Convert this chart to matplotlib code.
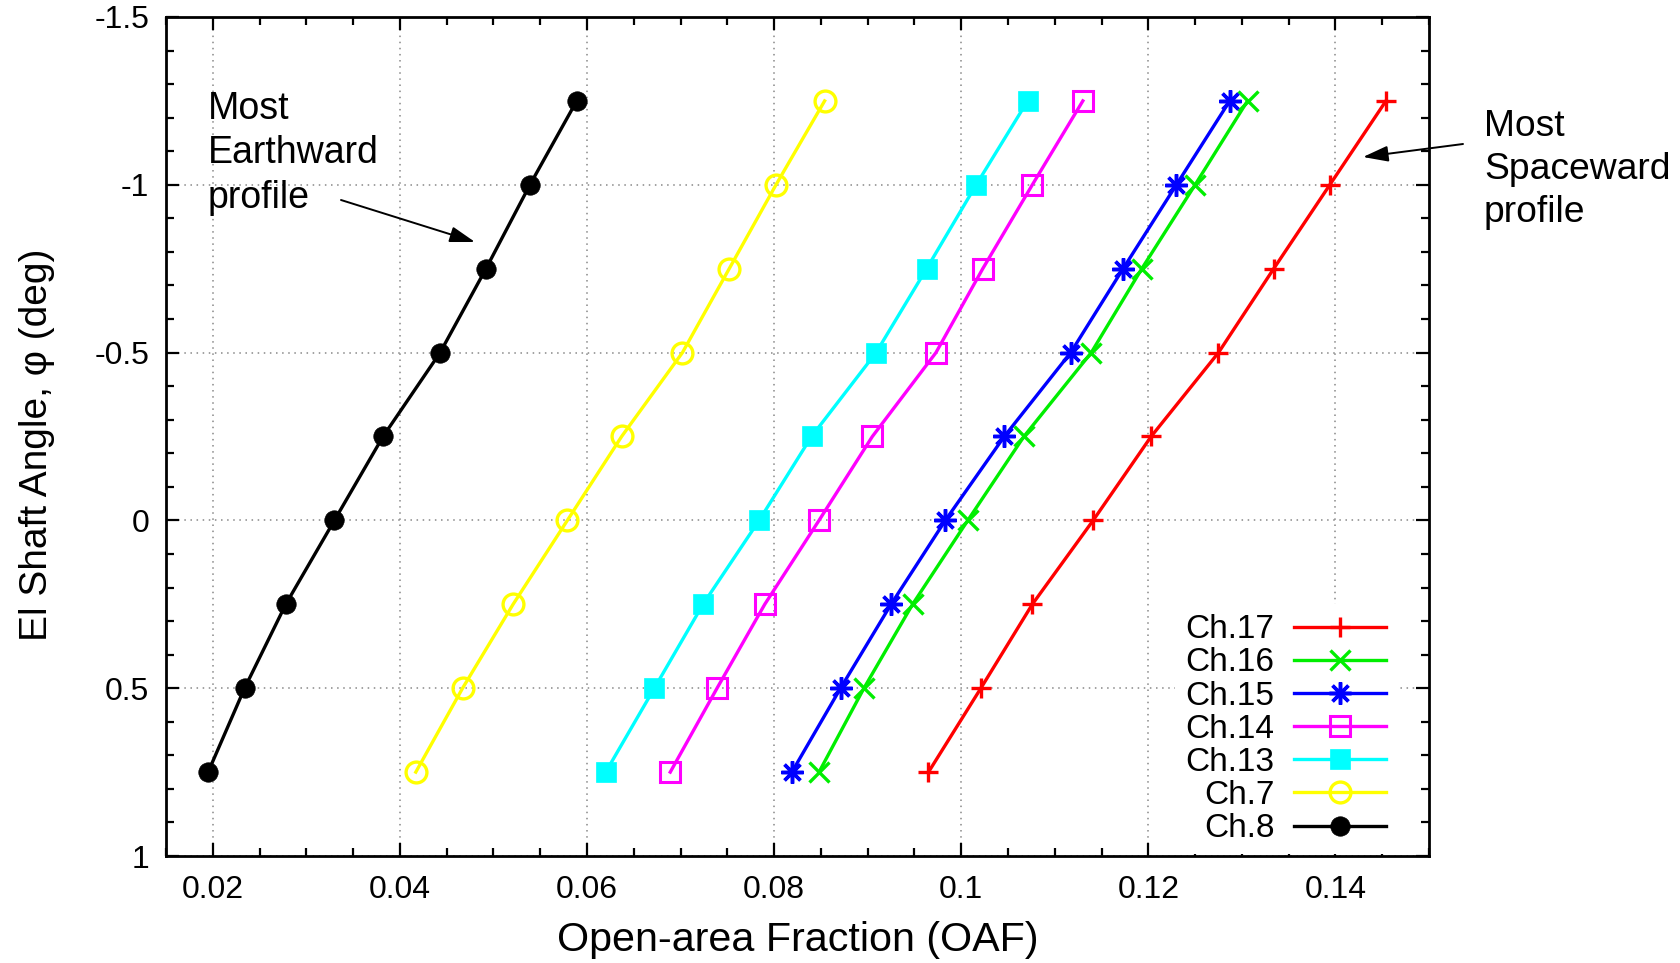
import matplotlib
matplotlib.use("Agg")
import matplotlib.pyplot as plt
from matplotlib.ticker import FixedLocator, FixedFormatter, MultipleLocator

plt.rcParams['font.family'] = ['Liberation Sans', 'DejaVu Sans']

# ---- data ----
angles = [-1.25, -1.0, -0.75, -0.5, -0.25, 0.0, 0.25, 0.5, 0.75]
ch17 = [0.1454, 0.1394, 0.1334, 0.1275, 0.1203, 0.1141, 0.1076, 0.1021, 0.0965]
ch16 = [0.1306, 0.1250, 0.1193, 0.1139, 0.1067, 0.1007, 0.0948, 0.0896, 0.0848]
ch15 = [0.1287, 0.1230, 0.1173, 0.1117, 0.1046, 0.0983, 0.0925, 0.0871, 0.0819]
ch14 = [0.1130, 0.1076, 0.1023, 0.0973, 0.0905, 0.0848, 0.0790, 0.0739, 0.0689]
ch13 = [0.1071, 0.1016, 0.0963, 0.0909, 0.0840, 0.0784, 0.0724, 0.0672, 0.0620]
ch7 = [0.0854, 0.0802, 0.0752, 0.0702, 0.0637, 0.0579, 0.0521, 0.0467, 0.0417]
ch8 = [0.0589, 0.0539, 0.0492, 0.0443, 0.0382, 0.0330, 0.0278, 0.0234, 0.0195]

series_names = ['Ch.17', 'Ch.16', 'Ch.15', 'Ch.14', 'Ch.13', 'Ch.7', 'Ch.8']
series_values = [ch17, ch16, ch15, ch14, ch13, ch7, ch8]

xtick_vals = [0.02, 0.04, 0.06, 0.08, 0.10, 0.12, 0.14]
xtick_labels = ['0.02', '0.04', '0.06', '0.08', '0.1', '0.12', '0.14']
ytick_vals = [-1.5, -1.0, -0.5, 0.0, 0.5, 1.0]
ytick_labels = ['-1.5', '-1', '-0.5', '0', '0.5', '1']

# ---- styles ----
styles = {
    'Ch.17': dict(color='#ff0000', marker='+', ms=14, mfc='#ff0000', mew=2.4),
    'Ch.16': dict(color='#00ee00', marker='x', ms=14, mfc='#00ee00', mew=2.4),
    'Ch.15': dict(color='#0000ff', marker=(8, 2, 0), ms=16, mfc='#0000ff', mew=2.5),
    'Ch.14': dict(color='#ff00ff', marker='s', ms=14, mfc='none', mew=2.2),
    'Ch.13': dict(color='#00ffff', marker='s', ms=14, mfc='#00ffff', mew=0.5),
    'Ch.7': dict(color='#ffff00', marker='o', ms=15, mfc='none', mew=2.4),
    'Ch.8': dict(color='#000000', marker='o', ms=14, mfc='#000000', mew=0.5),
}

W, H = 1681, 963
fig = plt.figure(figsize=(W / 100, H / 100), dpi=100)
ax_left, ax_right, ax_top, ax_bot = 166, 1429, 17, 856
ax = fig.add_axes([ax_left / W, 1 - ax_bot / H, (ax_right - ax_left) / W, (ax_bot - ax_top) / H])

handles = []
for name, vals in zip(series_names, series_values):
    st = styles[name]
    h, = ax.plot(vals, angles, color=st['color'], lw=2.4, marker=st['marker'],
                 markersize=st['ms'], markerfacecolor=st['mfc'],
                 markeredgecolor=st['color'], markeredgewidth=st['mew'],
                 label=name, zorder=3)
    handles.append(h)

ax.set_xlim(0.015, 0.15)
ax.set_ylim(1.0, -1.5)

ax.xaxis.set_major_locator(FixedLocator(xtick_vals))
ax.xaxis.set_major_formatter(FixedFormatter(xtick_labels))
ax.xaxis.set_minor_locator(MultipleLocator(0.005))
ax.yaxis.set_major_locator(FixedLocator(ytick_vals))
ax.yaxis.set_major_formatter(FixedFormatter(ytick_labels))
ax.yaxis.set_minor_locator(MultipleLocator(0.1))

ax.tick_params(which='both', direction='in', top=True, right=True, width=1.6, colors='black')
ax.tick_params(which='major', length=9.5)
ax.tick_params(which='minor', length=5.5)
ax.tick_params(axis='x', which='major', labelsize=23, pad=13.5)
ax.tick_params(axis='y', which='major', labelsize=23, pad=12)
for sp in ax.spines.values():
    sp.set_linewidth(2.0)

ax.grid(True, which='major', color='#888888', linestyle=(0, (1, 3)), linewidth=1.1, zorder=0)
ax.set_axisbelow(True)

ax.set_xlabel('Open-area Fraction (OAF)', fontsize=29.7)
ax.xaxis.set_label_coords(0.5, -0.077)
ax.xaxis.label.set_va('top')
ax.set_ylabel('El Shaft Angle, \u03c6 (deg)', fontsize=28)
ax.yaxis.set_label_coords(-0.088, 0.49)

leg = ax.legend(handles=handles, loc='lower right', bbox_to_anchor=(0.974, 0.002),
                fontsize=24, markerfirst=False, frameon=True, fancybox=False,
                edgecolor='none', facecolor='white', framealpha=1.0,
                borderpad=0.3, borderaxespad=0.0, handlelength=2.75,
                handletextpad=0.6, labelspacing=0.065)
leg.set_zorder(5)

# annotations
fig.text(208 / W, 1 - 91 / H, 'Most\nEarthward\nprofile', fontsize=27, ha='left', va='top',
         linespacing=1.3)
ax.annotate('', xy=(475 / W, 1 - 242 / H), xycoords='figure fraction',
            xytext=(341 / W, 1 - 200 / H), textcoords='figure fraction',
            arrowprops=dict(arrowstyle='-|>,head_length=0.7,head_width=0.22', color='black',
                            lw=1.4, mutation_scale=22, shrinkA=0, shrinkB=0),
            annotation_clip=False)

fig.text(1484 / W, 1 - 109 / H, 'Most\nSpaceward\nprofile', fontsize=26.8, ha='left', va='top',
         linespacing=1.3)
ax.annotate('', xy=(1363 / W, 1 - 157 / H), xycoords='figure fraction',
            xytext=(1463 / W, 1 - 144 / H), textcoords='figure fraction',
            arrowprops=dict(arrowstyle='-|>,head_length=0.7,head_width=0.22', color='black',
                            lw=1.4, mutation_scale=22, shrinkA=0, shrinkB=0),
            annotation_clip=False)

fig.savefig('out.png', dpi=100)
